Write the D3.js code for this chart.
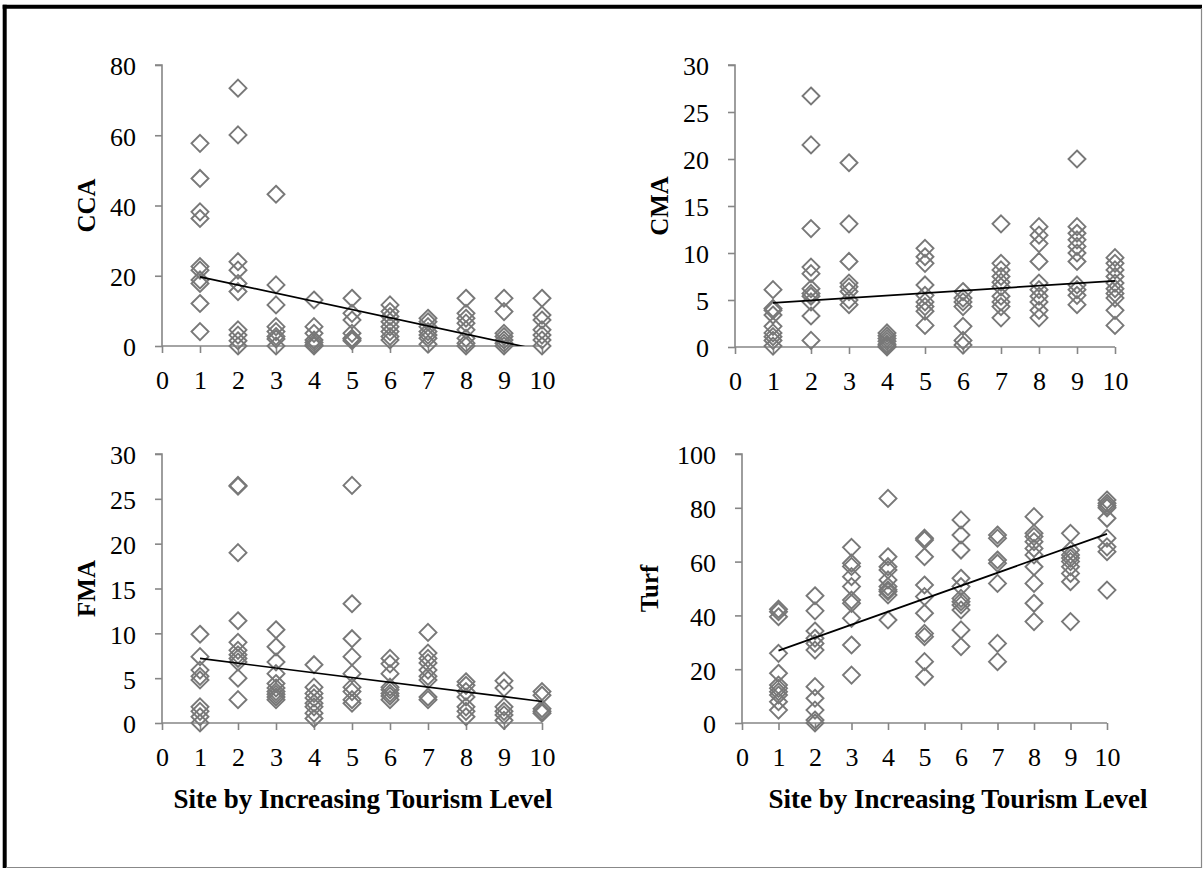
<!DOCTYPE html>
<html><head><meta charset="utf-8">
<script src="https://cdn.jsdelivr.net/npm/d3@7/dist/d3.min.js"></script>
<style>body{margin:0;background:#fff}svg{display:block}</style>
</head><body>
<svg id="chart" width="1203" height="869"></svg>
<script>
// ---------- DATA ----------
const sites = [1,2,3,4,5,6,7,8,9,10];
const xTicks = [0,1,2,3,4,5,6,7,8,9,10];

const ccaValues = [
  [57.7, 47.7, 38.2, 36.3, 22.6, 21.6, 18.8, 17.8, 12.1, 4.1],
  [73.4, 60.1, 24.0, 21.6, 17.8, 15.5, 4.6, 3.1, 1.5, 0],
  [43.2, 17.4, 11.7, 5.5, 4.1, 2.7, 2.0, 0],
  [13.1, 5.5, 3.6, 1.7, 1.0, 0.3, 0],
  [13.6, 9.3, 7.4, 3.6, 2.2, 2.0, 1.5],
  [11.7, 9.8, 8.4, 6.9, 5.5, 4.1, 2.7, 1.7],
  [7.9, 6.9, 5.5, 4.1, 3.1, 2.2, 0.5],
  [13.6, 9.3, 7.9, 6.5, 4.6, 2.2, 0.8, 0],
  [13.6, 9.8, 3.6, 2.7, 1.7, 0.8, 0],
  [13.6, 8.8, 7.4, 4.6, 3.1, 1.7, 0]
];
const cmaValues = [
  [6.1, 4.1, 3.9, 3.4, 2.2, 1.5, 1.1, 0.7, 0.1],
  [26.7, 21.5, 12.6, 8.5, 7.8, 6.2, 5.7, 5.4, 4.8, 3.3, 0.7],
  [19.6, 13.1, 9.1, 6.8, 6.4, 5.9, 5.0, 4.5],
  [1.5, 1.2, 0.9, 0.6, 0.3, 0.1, 0],
  [10.5, 9.6, 8.9, 6.6, 5.5, 4.8, 4.3, 3.8, 2.3],
  [5.9, 5.2, 4.8, 4.3, 2.2, 0.7, 0.2],
  [13.1, 8.9, 8.2, 7.5, 6.9, 6.4, 5.4, 4.8, 4.3, 3.1],
  [12.8, 11.9, 11.0, 9.1, 6.8, 6.1, 5.4, 4.8, 3.9, 3.1],
  [20.0, 12.8, 12.1, 11.4, 10.7, 10.0, 9.1, 6.6, 6.1, 5.5, 4.5],
  [9.5, 8.9, 8.2, 7.5, 6.8, 6.2, 5.7, 5.2, 3.9, 2.3]
];
const fmaValues = [
  [9.9, 7.4, 5.9, 5.2, 4.8, 1.8, 1.3, 0.7, 0],
  [26.5, 26.4, 19.0, 11.4, 9.0, 8.1, 7.6, 7.2, 6.8, 5.0, 2.6],
  [10.4, 8.5, 6.8, 5.5, 4.4, 3.9, 3.5, 3.2, 2.9, 2.6],
  [6.5, 4.0, 3.3, 2.8, 2.2, 1.8, 1.1, 0.5],
  [26.5, 13.3, 9.4, 7.4, 5.5, 4.0, 3.5, 2.6, 2.2],
  [7.2, 6.6, 5.5, 4.0, 3.7, 3.3, 3.0, 2.6],
  [10.1, 7.8, 7.2, 6.7, 5.9, 5.2, 4.8, 2.9, 2.6],
  [4.6, 4.2, 3.5, 2.9, 1.8, 1.3, 0.7],
  [4.7, 3.9, 1.8, 1.3, 0.9, 0.3],
  [3.5, 3.1, 1.6, 1.3, 1.1]
];
const turfValues = [
  [42.3, 41.4, 39.5, 25.9, 18.5, 14.1, 12.9, 11.6, 10.4, 7.9, 4.8],
  [47.3, 41.7, 34.2, 31.5, 29.6, 27.1, 13.5, 9.2, 4.8, 1.1, 0],
  [65.3, 59.4, 58.2, 54.4, 50.7, 45.7, 44.5, 38.9, 29.0, 17.8],
  [83.5, 61.8, 58.1, 56.9, 53.2, 50.7, 49.5, 48.9, 47.6, 38.3],
  [68.7, 68.0, 61.8, 51.3, 47.0, 40.8, 33.3, 32.1, 22.8, 17.2],
  [75.5, 69.9, 64.3, 53.8, 50.7, 46.3, 45.1, 43.9, 42.0, 34.6, 28.4],
  [69.9, 68.7, 60.6, 59.4, 51.9, 29.6, 22.8],
  [76.7, 70.5, 69.3, 67.4, 64.9, 62.5, 58.1, 51.9, 44.5, 37.7],
  [70.5, 64.3, 62.5, 61.3, 60.0, 58.1, 55.6, 52.5, 37.7],
  [82.9, 81.7, 80.8, 80.0, 76.1, 68.7, 65.5, 63.7, 49.4]
];

// linear trend lines [intercept, slope]
const ccaTrend = [22.03, -2.33];
const cmaTrend = [4.44, 0.26];
const fmaTrend = [7.73, -0.533];
const turfTrend = [22.1, 4.82];

const ccaTicks = [0,20,40,60,80];
const cmaTicks = [0,5,10,15,20,25,30];
const fmaTicks = [0,5,10,15,20,25,30];
const turfTicks = [0,20,40,60,80,100];

const yLabels = ["CCA","CMA","FMA","Turf"];
const xTitle = "Site by Increasing Tourism Level";

// ---------- LAYOUT ----------
const panels = [
  {name:yLabels[0], values:ccaValues, trend:ccaTrend, ticks:ccaTicks, x0:162, x1:542, yTop:65, yBot:346, labX:95, title:false},
  {name:yLabels[1], values:cmaValues, trend:cmaTrend, ticks:cmaTicks, x0:735, x1:1115, yTop:65, yBot:347, labX:668, title:false},
  {name:yLabels[2], values:fmaValues, trend:fmaTrend, ticks:fmaTicks, x0:162, x1:542, yTop:454, yBot:723, labX:95, title:true, titleX:363},
  {name:yLabels[3], values:turfValues, trend:turfTrend, ticks:turfTicks, x0:742, x1:1107, yTop:454, yBot:723, labX:658, title:true, titleX:958}
];

const svg = d3.select("#chart");
const FONT = "'Liberation Serif', 'Times New Roman', serif";
const AXIS = "#868686";
const MARK = "#787878";

// border
svg.append("line").attr("x1",4.7).attr("x2",4.7).attr("y1",4.7).attr("y2",868).attr("stroke","#000").attr("stroke-width",4);
svg.append("line").attr("x1",2.7).attr("x2",1202).attr("y1",6.7).attr("y2",6.7).attr("stroke","#000").attr("stroke-width",4);
svg.append("line").attr("x1",1201.5).attr("x2",1201.5).attr("y1",8).attr("y2",868).attr("stroke","#888").attr("stroke-width",1.2);
svg.append("line").attr("x1",6).attr("x2",1202).attr("y1",867.5).attr("y2",867.5).attr("stroke","#888").attr("stroke-width",1.2);

const diamond = d3.symbol().type(d3.symbolDiamond2 || d3.symbolSquare2).size(1);

panels.forEach((p, i) => {
  const x = d3.scaleLinear().domain([0,10]).range([p.x0, p.x1]);
  const y = d3.scaleLinear().domain([0, d3.max(p.ticks)]).range([p.yBot, p.yTop]);
  const g = svg.append("g");

  // y axis
  const ya = g.append("g").attr("transform", `translate(${p.x0},0)`)
    .call(d3.axisLeft(y).tickValues(p.ticks).tickSize(7).tickPadding(19));
  ya.select(".domain").attr("stroke", AXIS).attr("stroke-width",1.6).attr("d", `M-7,${p.yTop}H0V${p.yBot}`);
  ya.selectAll(".tick line").attr("stroke", AXIS).attr("stroke-width",1.6);
  ya.selectAll(".tick text").attr("font-family", FONT).attr("font-size", 26).attr("fill","#000").attr("dy", "0.38em");

  // x axis
  const xa = g.append("g").attr("transform", `translate(0,${p.yBot})`)
    .call(d3.axisBottom(x).tickValues(xTicks).tickSize(7).tickPadding(18));
  xa.select(".domain").attr("stroke", AXIS).attr("stroke-width",1.6).attr("d", `M${p.x0},0H${p.x1}`);
  xa.selectAll(".tick line").attr("stroke", AXIS).attr("stroke-width",1.6);
  xa.selectAll(".tick text").attr("font-family", FONT).attr("font-size", 26).attr("fill","#000");

  // clip
  const cid = "clip"+i;
  svg.append("clipPath").attr("id", cid).append("rect")
    .attr("x", p.x0).attr("y", p.yTop - 20).attr("width", p.x1 - p.x0 + 20).attr("height", p.yBot - p.yTop + 20);

  // points
  const pts = [];
  p.values.forEach((arr, si) => arr.forEach(v => pts.push([sites[si], v])));
  g.append("g").selectAll("path").data(pts).join("path")
    .attr("transform", d => `translate(${x(d[0])},${y(d[1])})`)
    .attr("d", "M0,-8.5L8.5,0L0,8.5L-8.5,0Z")
    .attr("fill","none").attr("stroke", MARK).attr("stroke-width",1.9);

  // trend line
  const tl = [1,10].map(s => [s, p.trend[0] + p.trend[1]*s]);
  g.append("path").attr("clip-path", `url(#${cid})`)
    .attr("d", d3.line().x(d => x(d[0])).y(d => y(d[1]))(tl))
    .attr("fill","none").attr("stroke","#000").attr("stroke-width",1.7);

  // y label
  g.append("text").attr("transform", `translate(${p.labX},${(p.yTop+p.yBot)/2}) rotate(-90)`)
    .attr("text-anchor","middle").attr("font-family", FONT).attr("font-weight","bold").attr("font-size", 25)
    .text(p.name);

  if (p.title) {
    g.append("text").attr("x", p.titleX).attr("y", 808).attr("text-anchor","middle")
      .attr("font-family", FONT).attr("font-weight","bold").attr("font-size", 27).text(xTitle);
  }
});
</script>
</body></html>
